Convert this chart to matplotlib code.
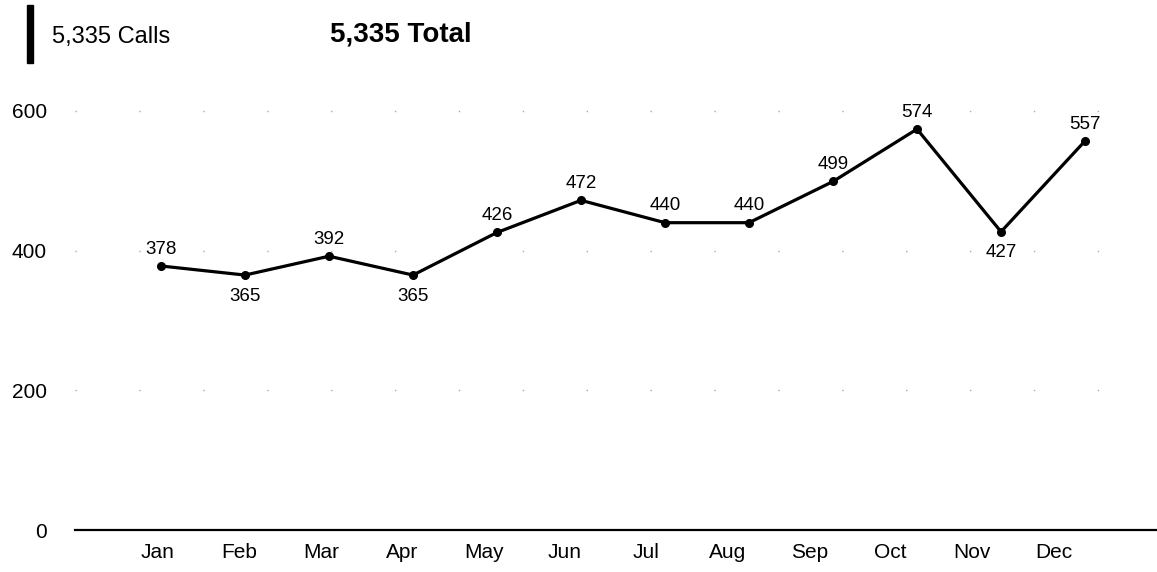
import matplotlib.pyplot as plt

plt.rcParams['font.family'] = ['Liberation Sans', 'DejaVu Sans']

months = ['Jan', 'Feb', 'Mar', 'Apr', 'May', 'Jun', 'Jul', 'Aug', 'Sep', 'Oct', 'Nov', 'Dec']
calls = [378, 365, 392, 365, 426, 472, 440, 440, 499, 574, 427, 557]
label_below = [False, True, False, True, False, False, False, False, False, False, True, False]
yticks = [0, 200, 400, 600]

# the scanned labels sit on a slightly tighter spacing than the points
tick_scale = 0.969
tick_shift = -0.036

fig = plt.figure(figsize=(11.57, 5.72), dpi=100)
ax = fig.add_axes([75 / 1157, 42 / 572, 1 - 75 / 1157, 447 / 572])

x = list(range(len(months)))
ax.plot(x, calls, color='black', lw=2.3, marker='o', ms=5.5, zorder=3)

for i, v in enumerate(calls):
    if label_below[i]:
        ax.annotate(str(v), (i, v), xytext=(0, -9), textcoords='offset points',
                    ha='center', va='top', fontsize=13.5)
    else:
        ax.annotate(str(v), (i, v), xytext=(0, 6), textcoords='offset points',
                    ha='center', va='bottom', fontsize=13.5)

# faint dotted guides left over in the scan
for t in yticks[1:]:
    ax.axhline(t, color='#aaaaaa', lw=1, ls=(0, (1, 45)), zorder=1)

ax.set_xlim(-1.024, 11.857)
ax.set_ylim(0, 640)
ax.set_xticks([i * tick_scale + tick_shift for i in x])
ax.set_xticklabels(months, fontsize=15)
ax.set_yticks(yticks)
ax.set_yticklabels([str(t) for t in yticks], fontsize=15)
ax.tick_params(axis='y', length=0, pad=28 * 0.72)
ax.tick_params(axis='x', length=0, pad=9)

for s in ['top', 'right', 'left']:
    ax.spines[s].set_visible(False)
ax.spines['bottom'].set_linewidth(1.6)

# header
fig.patches.append(plt.Rectangle((27 / 1157, 1 - 63 / 572), 6 / 1157, 58 / 572,
                                 transform=fig.transFigure, color='black'))
fig.text(52 / 1157, 1 - 37 / 572, '5,335 Calls', fontsize=17, va='center', ha='left')
fig.text(330 / 1157, 1 - 35 / 572, '5,335 Total', fontsize=20, fontweight='bold',
         va='center', ha='left')

fig.savefig('out.png', dpi=100)
